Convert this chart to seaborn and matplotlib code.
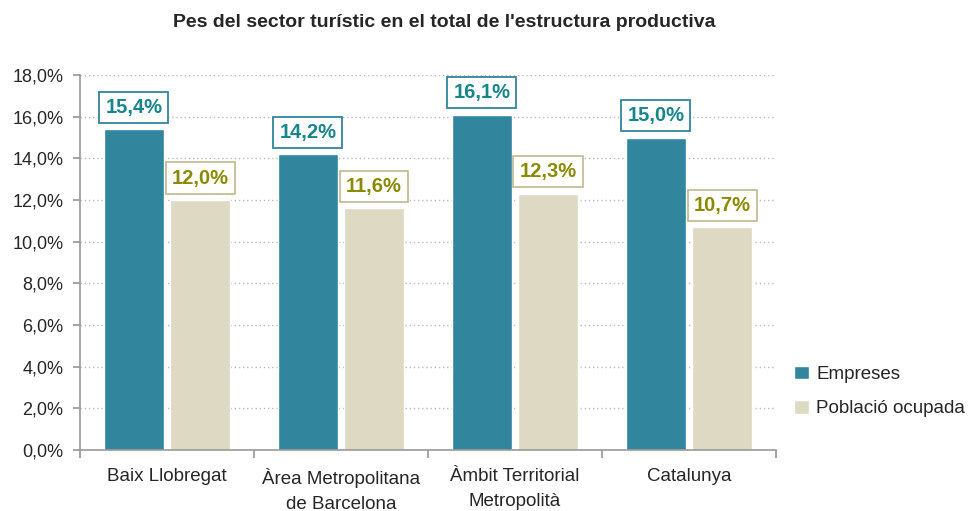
import matplotlib
matplotlib.use("Agg")
import matplotlib.pyplot as plt
import seaborn as sns
import pandas as pd
import numpy as np
from matplotlib.ticker import FuncFormatter, FixedLocator, NullFormatter

categories = ["Baix Llobregat", "Àrea Metropolitana\nde Barcelona", "Àmbit Territorial\nMetropolità", "Catalunya"]
series = ["Empreses", "Població ocupada"]
empreses = [15.4, 14.2, 16.1, 15.0]
poblacio = [12.0, 11.6, 12.3, 10.7]

colors = ["#31859C", "#DDD9C3"]
text_colors = ["#17858A", "#8A8A00"]
box_edges = ["#31859C", "#C4BD97"]

df = pd.DataFrame({
    "cat": categories * 2,
    "serie": [series[0]] * 4 + [series[1]] * 4,
    "val": empreses + poblacio,
})

sns.set_theme(style="white")
plt.rcParams['font.family'] = ['Liberation Sans', 'DejaVu Sans']

fig = plt.figure(figsize=(9.72, 5.11), dpi=100)
ax = fig.add_axes([80/972, 1 - 450/511, (776-80)/972, (450-75)/511])

sns.barplot(data=df, x="cat", y="val", hue="serie", palette=colors,
            width=0.76, gap=0.08, ax=ax, legend=True, saturation=1)

ax.set_ylim(0, 18)
ax.set_xlim(-0.5, 3.5)
ax.set_yticks(np.arange(0, 18.1, 2))
ax.yaxis.set_major_formatter(FuncFormatter(lambda v, p: f"{v:.1f}%".replace(".", ",")))
ax.tick_params(axis="y", labelsize=13, length=5, direction="out", left=True, color="#999999", pad=7)
ax.grid(axis="y", color="#BBBBBB", linestyle=(0, (1, 2)), linewidth=1)
ax.set_axisbelow(True)

# x ticks at boundaries, labels centered
ax.xaxis.set_major_locator(FixedLocator([-0.5, 0.5, 1.5, 2.5, 3.5]))
ax.xaxis.set_major_formatter(NullFormatter())
ax.xaxis.set_minor_locator(FixedLocator([0, 1, 2, 3]))
ax.set_xticklabels(categories, minor=True, linespacing=1.6)
ax.tick_params(axis="x", which="minor", length=0, labelsize=13.5, pad=13)
ax.tick_params(axis="x", which="major", length=6, direction="out", bottom=True, color="#999999")

for s in ["top", "right"]:
    ax.spines[s].set_visible(False)
for s in ["left", "bottom"]:
    ax.spines[s].set_color("#999999")
    ax.spines[s].set_linewidth(1.2)

ax.set_xlabel("")
ax.set_ylabel("")

for i, cont in enumerate(ax.containers):
    for bar, v in zip(cont, [empreses, poblacio][i]):
        x = bar.get_x() + bar.get_width() / 2
        ax.annotate(f"{v:.1f}%".replace(".", ","), (x, bar.get_height()),
                    xytext=(0, 9), textcoords="offset points", ha="center", va="bottom",
                    fontsize=14.5, fontweight="bold", color=text_colors[i],
                    bbox=dict(boxstyle="square,pad=0.3", fc="white", ec=box_edges[i], lw=1.3))

leg = ax.legend(loc="upper left", bbox_to_anchor=(1.005, 0.265), frameon=False, fontsize=13.5,
                handlelength=0.75, handleheight=0.75, handletextpad=0.4, labelspacing=0.9,
                borderpad=0.3)

fig.text(0.457, 0.955, "Pes del sector turístic en el total de l'estructura productiva",
         ha="center", va="center", fontsize=14, fontweight="bold")

fig.savefig("out.png", dpi=100)
